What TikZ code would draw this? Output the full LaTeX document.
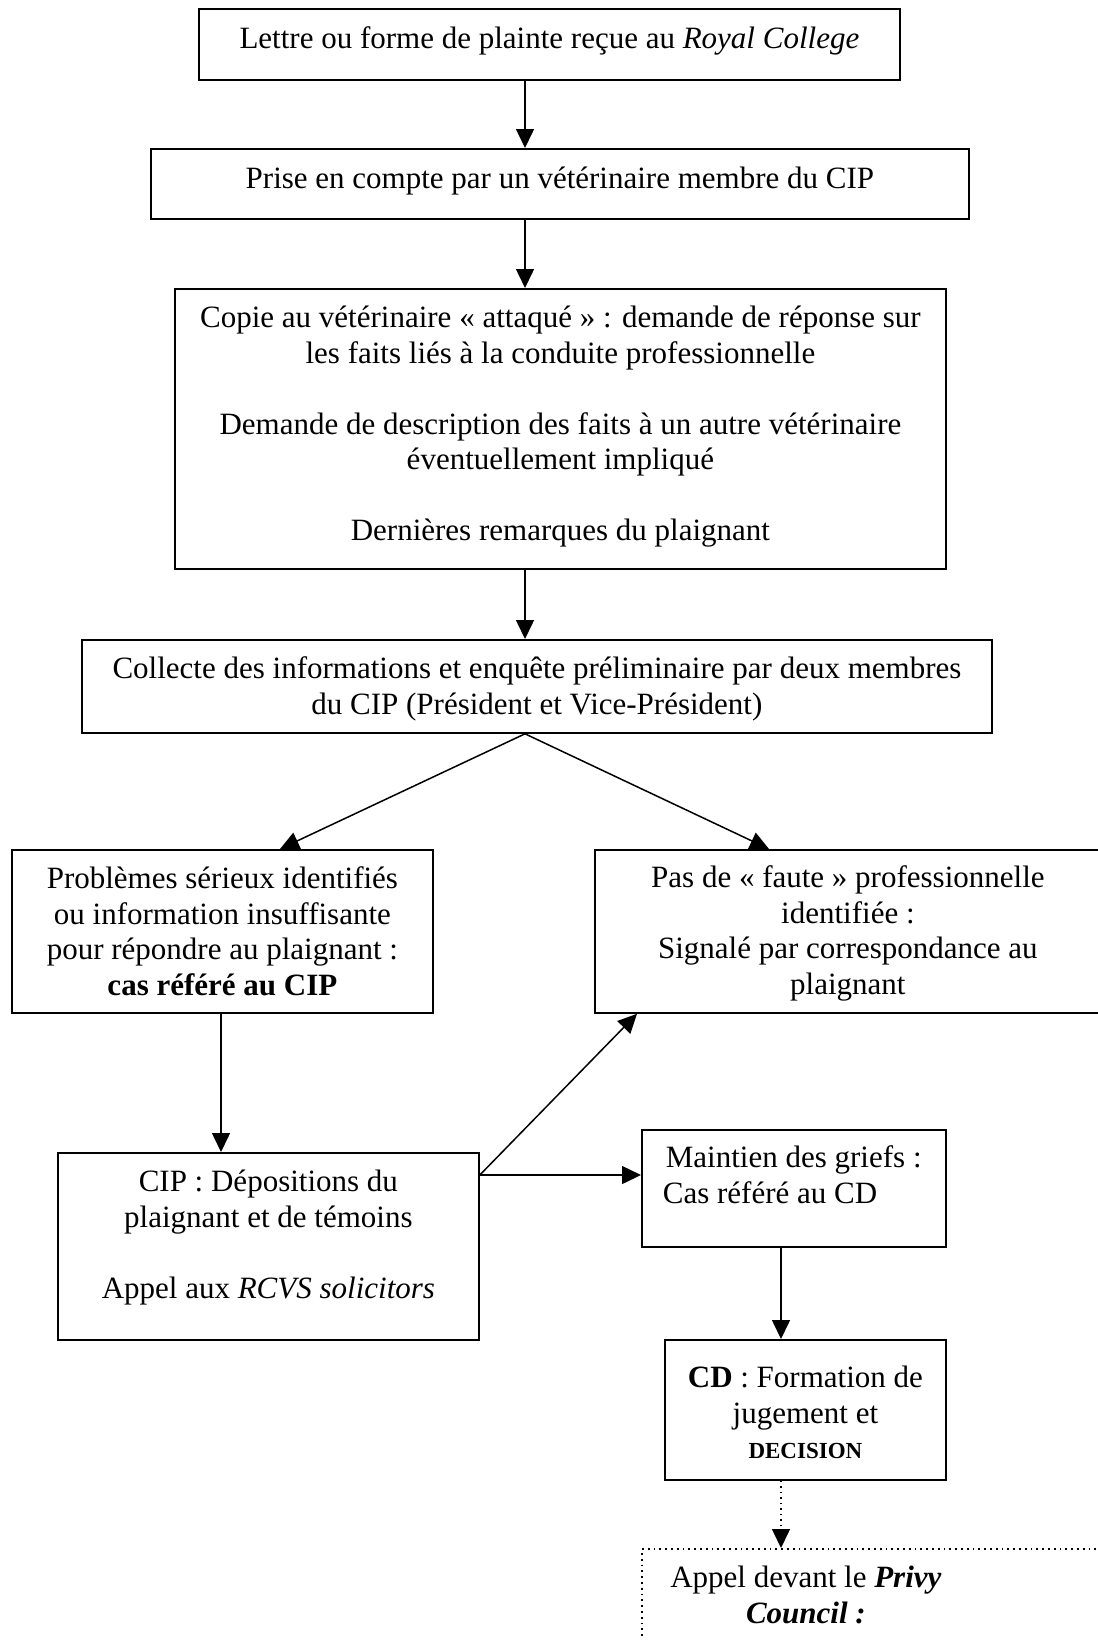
\documentclass[tikz,border=0pt]{standalone}
\usepackage{fontspec}
\setmainfont{Liberation Serif}
\usetikzlibrary{arrows.meta}
\begin{document}
\begin{tikzpicture}[x=0.5pt,y=-0.5pt,
  box/.style={draw, line width=0.9pt, inner sep=0pt, anchor=north west,
    font=\fontsize{15.5pt}{17.75pt}\selectfont},
  dotbox/.style={box, dotted},
  arr/.style={line width=0.75pt, -{Triangle[length=9.5pt,width=9pt]}},
]
\useasboundingbox (0,0) rectangle (1098,1640);
\clip (0,0) rectangle (1098,1640);

\node[box] (b1) at (198,8) {\parbox[c][35.5pt][t]{350.5pt}{\centering\rule{0pt}{20pt}Lettre ou forme de plainte reçue au \textit{Royal College}}};

\node[box] (b2) at (150,148) {\parbox[c][35pt][t]{409pt}{\centering\rule{0pt}{20pt}Prise en compte par un vétérinaire membre du CIP}};

\node[box] (b3) at (174,288) {\parbox[c][140pt][t]{385.5pt}{\centering\rule{0pt}{19.5pt}Copie au vétérinaire « attaqué » : demande de réponse sur\\
les faits liés à la conduite professionnelle\\[17.75pt]
Demande de description des faits à un autre vétérinaire\\
éventuellement impliqué\\[17.75pt]
Dernières remarques du plaignant}};

\node[box] (b4) at (81,639) {\parbox[c][46.5pt][t]{455pt}{\centering\rule{0pt}{19.5pt}Collecte des informations et enquête préliminaire par deux membres\\
du CIP (Président et Vice-Président)}};

\node[box] (b5) at (11,849) {\parbox[c][81.5pt][t]{210.5pt}{\centering\rule{0pt}{19.5pt}Problèmes sérieux identifiés\\
ou information insuffisante\\
pour répondre au plaignant :\\
\textbf{cas référé au CIP}}};

\node[box] (b6) at (594,849) {\parbox[c][81.5pt][t]{253pt}{\centering\rule{0pt}{19pt}Pas de « faute » professionnelle\\
identifiée :\\
Signalé par correspondance au\\
plaignant}};

\node[box] (b7) at (57,1152) {\parbox[c][93.5pt][t]{210.5pt}{\centering\rule{0pt}{19.5pt}CIP : Dépositions du\\
plaignant et de témoins\\[17.75pt]
Appel aux \textit{RCVS solicitors}}};

\node[box] (b8) at (641,1129) {\parbox[c][58.5pt][t]{152pt}{\raggedright\rule{0pt}{19pt}\hspace*{12pt}Maintien des griefs :\\
\hspace*{10.5pt}Cas référé au CD}};

\node[box] (b9) at (664,1339) {\parbox[c][70pt][t]{140.5pt}{\centering\rule{0pt}{24pt}\textbf{CD} : Formation de\\
jugement et\\
{\fontsize{11.5pt}{17.75pt}\selectfont\textbf{DECISION}}}};

\node[dotbox] (b10) at (641,1548) {\parbox[c][51pt][t]{234.5pt}{\centering\rule{0pt}{19.5pt}Appel devant le \textbf{\textit{Privy}}\rule{70.5pt}{0pt}\\
\textbf{\textit{Council :}}\rule{70.5pt}{0pt}}};

\coordinate (xa) at (525,0);
\coordinate (xl5) at (280,0);
\coordinate (xr6) at (769,0);
\coordinate (xl) at (221,0);
\coordinate (ym) at (0,1175);
\coordinate (xd) at (637,0);
\coordinate (xr) at (781,0);

\draw[arr] (b1.south -| xa) -- (b2.north -| xa);
\draw[arr] (b2.south -| xa) -- (b3.north -| xa);
\draw[arr] (b3.south -| xa) -- (b4.north -| xa);
\draw[arr] (b4.south -| xa) -- (b5.north -| xl5);
\draw[arr] (b4.south -| xa) -- (b6.north -| xr6);
\draw[arr] (b5.south -| xl) -- (b7.north -| xl);
\draw[arr] (b7.east |- ym) -- (b6.south -| xd);
\draw[arr] (b7.east |- ym) -- (b8.west |- ym);
\draw[arr] (b8.south -| xr) -- (b9.north -| xr);
\draw[arr, dotted] (b9.south -| xr) -- (b10.north -| xr);
\end{tikzpicture}
\end{document}
